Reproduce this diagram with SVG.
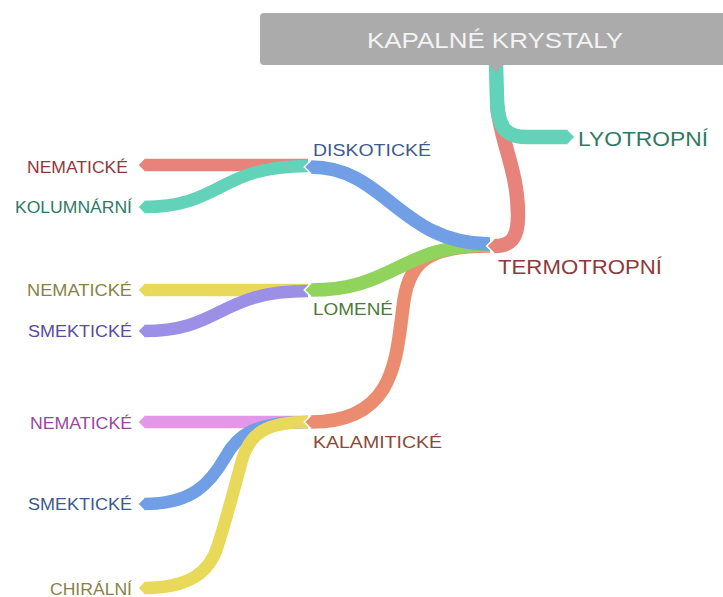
<svg xmlns="http://www.w3.org/2000/svg" width="723" height="597" viewBox="0 0 723 597">
<style>
  .band{fill:none;stroke-linecap:butt;stroke-linejoin:round}
  .lf{stroke-width:12.5}
  .mid{stroke-width:13.5}
  .main{stroke-width:14.5}
  text{font-family:"Liberation Sans",Arial,sans-serif}
  .leaf{font-size:16px}
  .l2{font-size:17px}
  .l1{font-size:19.5px}
  .title{font-size:22px;fill:#f3f3f3}
  .tipline{fill:none;stroke:#ffffff;stroke-width:0.11;stroke-linejoin:miter}
</style>
<defs>
  <marker id="t-teal" markerUnits="strokeWidth" viewBox="0 -0.5 0.55 1" refX="0" refY="0" markerWidth="0.55" markerHeight="1" orient="auto" overflow="visible"><polygon points="-0.02,-0.5 0.5,0 -0.02,0.5" fill="#62d3b8"/><path class="tipline" d="M0,-0.5 L0.5,0 L0,0.5"/></marker>
  <marker id="t-red" markerUnits="strokeWidth" viewBox="0 -0.5 0.55 1" refX="0" refY="0" markerWidth="0.55" markerHeight="1" orient="auto" overflow="visible"><polygon points="-0.02,-0.5 0.5,0 -0.02,0.5" fill="#e8837b"/><path class="tipline" d="M0,-0.5 L0.5,0 L0,0.5"/></marker>
  <marker id="t-blue" markerUnits="strokeWidth" viewBox="0 -0.5 0.55 1" refX="0" refY="0" markerWidth="0.55" markerHeight="1" orient="auto" overflow="visible"><polygon points="-0.02,-0.5 0.5,0 -0.02,0.5" fill="#709fe6"/><path class="tipline" d="M0,-0.5 L0.5,0 L0,0.5"/></marker>
  <marker id="t-green" markerUnits="strokeWidth" viewBox="0 -0.5 0.55 1" refX="0" refY="0" markerWidth="0.55" markerHeight="1" orient="auto" overflow="visible"><polygon points="-0.02,-0.5 0.5,0 -0.02,0.5" fill="#90d45e"/><path class="tipline" d="M0,-0.5 L0.5,0 L0,0.5"/></marker>
  <marker id="t-salmon" markerUnits="strokeWidth" viewBox="0 -0.5 0.55 1" refX="0" refY="0" markerWidth="0.55" markerHeight="1" orient="auto" overflow="visible"><polygon points="-0.02,-0.5 0.5,0 -0.02,0.5" fill="#eb8b70"/><path class="tipline" d="M0,-0.5 L0.5,0 L0,0.5"/></marker>
  <marker id="t-yellow" markerUnits="strokeWidth" viewBox="0 -0.5 0.55 1" refX="0" refY="0" markerWidth="0.55" markerHeight="1" orient="auto" overflow="visible"><polygon points="-0.02,-0.5 0.5,0 -0.02,0.5" fill="#e9d95b"/><path class="tipline" d="M0,-0.5 L0.5,0 L0,0.5"/></marker>
  <marker id="t-purple" markerUnits="strokeWidth" viewBox="0 -0.5 0.55 1" refX="0" refY="0" markerWidth="0.55" markerHeight="1" orient="auto" overflow="visible"><polygon points="-0.02,-0.5 0.5,0 -0.02,0.5" fill="#9c8fe6"/><path class="tipline" d="M0,-0.5 L0.5,0 L0,0.5"/></marker>
  <marker id="t-pink" markerUnits="strokeWidth" viewBox="0 -0.5 0.55 1" refX="0" refY="0" markerWidth="0.55" markerHeight="1" orient="auto" overflow="visible"><polygon points="-0.02,-0.5 0.5,0 -0.02,0.5" fill="#e497e8"/><path class="tipline" d="M0,-0.5 L0.5,0 L0,0.5"/></marker>
</defs>

<g id="connectors">
  <!-- leaves of KALAMITICKÉ -->
  <path class="band lf" stroke="#e497e8" marker-end="url(#t-pink)" d="M308,422 L144,422"/>
  <path class="band lf" stroke="#709fe6" marker-end="url(#t-blue)" d="M308,422 C250,422 236,438 226,456 C210,484 192,504 144,504"/>
  <path class="band lf" stroke="#e9d95b" marker-end="url(#t-yellow)" d="M308,422 C268,422 250,432 242,460 C234,490 226,520 218,545 C210,572 190,588 144,588"/>
  <!-- leaves of LOMENÉ -->
  <path class="band lf" stroke="#e9d95b" marker-end="url(#t-yellow)" d="M308,290 L144,290"/>
  <path class="band lf" stroke="#9c8fe6" marker-end="url(#t-purple)" d="M308,291 C218,291 222,331 144,331"/>
  <!-- leaves of DISKOTICKÉ -->
  <path class="band lf" stroke="#e8837b" marker-end="url(#t-red)" d="M308,165 L144,165"/>
  <path class="band lf" stroke="#62d3b8" marker-end="url(#t-teal)" d="M308,166 C218,166 222,207 144,207"/>
  <!-- level 2 -->
  <path class="band mid" stroke="#eb8b70" marker-end="url(#t-salmon)" d="M490,246 C430,246 410,260 404,300 C396,355 398,422 311,422"/>
  <path class="band mid" stroke="#90d45e" marker-end="url(#t-green)" d="M490,245 C400,245 395,290 311,290"/>
  <path class="band mid" stroke="#709fe6" marker-end="url(#t-blue)" d="M490,244 C400,244 385,167 311,167"/>
  <!-- level 1 -->
  <path class="band main" stroke="#e8837b" marker-end="url(#t-red)" d="M497,105 C500,140 518,170 518,215 C518,240 510,246 494,246"/>
  <path class="band main" stroke="#62d3b8" marker-end="url(#t-teal)" d="M496,64 L497,100 C498,128 506,137 526,137 L568,137"/>
</g>

<g id="root">
  <rect x="260" y="13" width="475" height="52" rx="4" fill="#ababab"/>
  <polygon points="489,64 503,64 496,73" fill="#ababab"/>
  <text class="title" x="495" y="48" text-anchor="middle" textLength="256" lengthAdjust="spacingAndGlyphs">KAPALNÉ KRYSTALY</text>
</g>
<g id="lyotropni"><text class="l1" x="578" y="146" fill="#2f7a66" textLength="130" lengthAdjust="spacingAndGlyphs">LYOTROPNÍ</text></g>
<g id="termotropni"><text class="l1" x="498" y="274" fill="#8e3a3c" textLength="164" lengthAdjust="spacingAndGlyphs">TERMOTROPNÍ</text></g>
<g id="diskoticke"><text class="l2" x="313" y="156" fill="#3d5a8c" textLength="118" lengthAdjust="spacingAndGlyphs">DISKOTICKÉ</text></g>
<g id="lomene"><text class="l2" x="313" y="315" fill="#4e7a3c" textLength="80" lengthAdjust="spacingAndGlyphs">LOMENÉ</text></g>
<g id="kalamiticke"><text class="l2" x="313" y="448" fill="#8a4a3a" textLength="129" lengthAdjust="spacingAndGlyphs">KALAMITICKÉ</text></g>
<g id="nematicke-d"><text class="leaf" x="27" y="173" fill="#8e3a3c" textLength="101" lengthAdjust="spacingAndGlyphs">NEMATICKÉ</text></g>
<g id="kolumnarni"><text class="leaf" x="15" y="213" fill="#2e7a68" textLength="117" lengthAdjust="spacingAndGlyphs">KOLUMNÁRNÍ</text></g>
<g id="nematicke-l"><text class="leaf" x="27" y="296" fill="#8a8245" textLength="105" lengthAdjust="spacingAndGlyphs">NEMATICKÉ</text></g>
<g id="smekticke-l"><text class="leaf" x="28" y="337" fill="#5a4aa5" textLength="104" lengthAdjust="spacingAndGlyphs">SMEKTICKÉ</text></g>
<g id="nematicke-k"><text class="leaf" x="30" y="429" fill="#9a46a0" textLength="102" lengthAdjust="spacingAndGlyphs">NEMATICKÉ</text></g>
<g id="smekticke-k"><text class="leaf" x="28" y="510" fill="#3d5a8c" textLength="104" lengthAdjust="spacingAndGlyphs">SMEKTICKÉ</text></g>
<g id="chiralni"><text class="leaf" x="50" y="595" fill="#8a8245" textLength="82" lengthAdjust="spacingAndGlyphs">CHIRÁLNÍ</text></g>
</svg>
